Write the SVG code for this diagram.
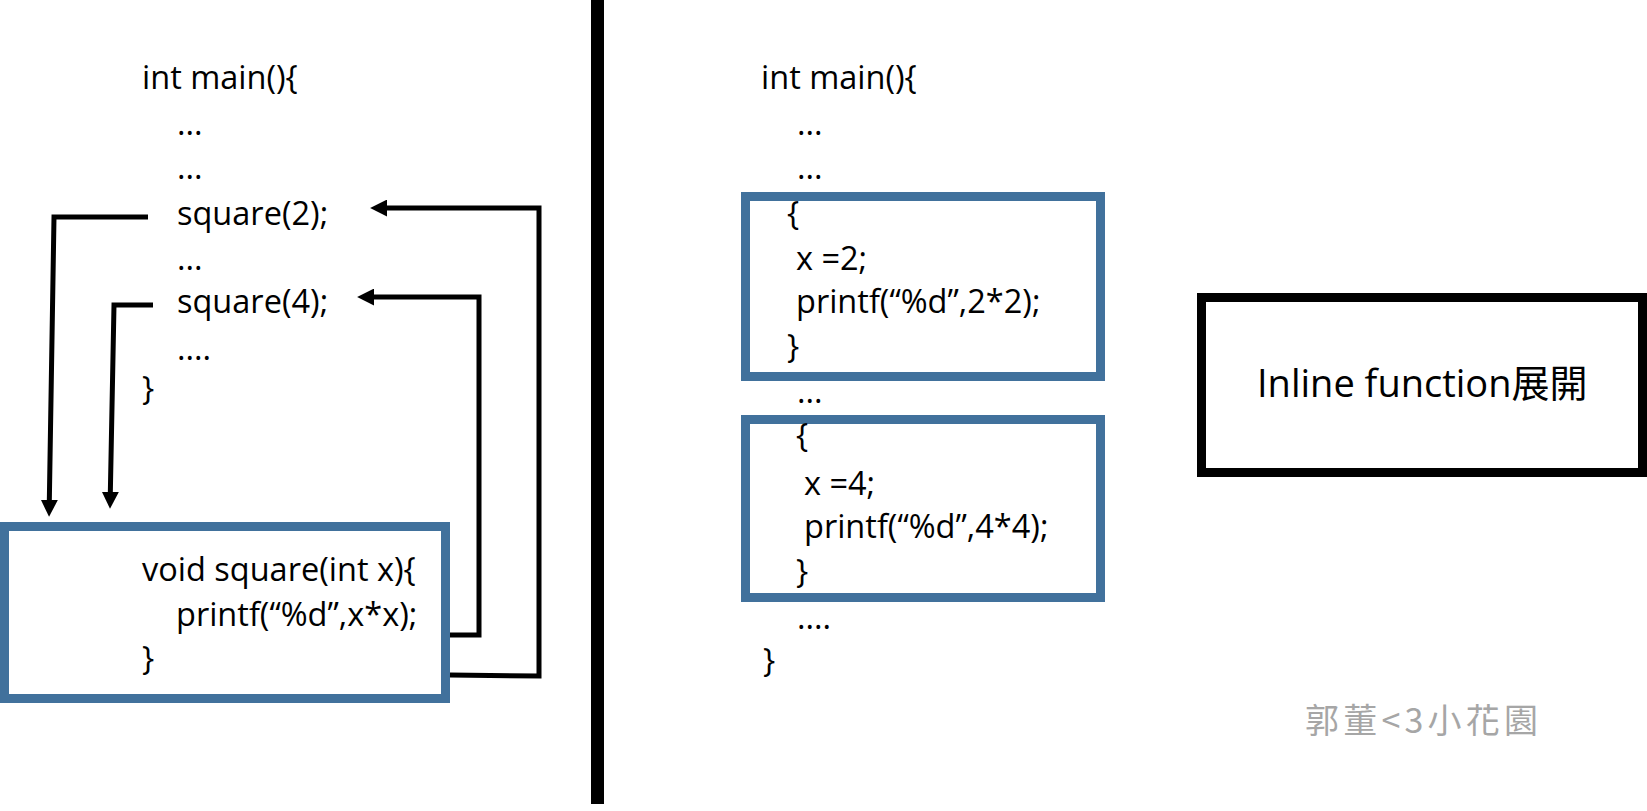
<svg xmlns="http://www.w3.org/2000/svg" width="1647" height="811" viewBox="0 0 1647 811">
<defs>
<style>
.code{font-family:"Open Sans","Liberation Sans",sans-serif;font-size:32.5px;fill:#000}
.blue{fill:none;stroke:#41719C;stroke-width:9}
.conn{fill:none;stroke:#000;stroke-width:5;stroke-linejoin:miter}
.big{font-family:"Open Sans","Noto Sans CJK TC",sans-serif;font-size:38px;fill:#000}
.wm{font-family:"Noto Sans CJK TC","Noto Sans CJK SC",sans-serif;font-size:34px;fill:#A6A6A6}
</style>
<marker id="ah" viewBox="0 0 16 16" refX="2" refY="8" markerWidth="17" markerHeight="17" markerUnits="userSpaceOnUse" orient="auto">
<path d="M0,0 L16,8 L0,16 z" fill="#000"/>
</marker>
</defs>
<rect width="1647" height="811" fill="#fff"/>

<g id="divider">
<rect x="591" y="0" width="13" height="804" fill="#000"/>
</g>

<g id="left-main">
<text class="code" x="142" y="89">int main(){</text>
<text class="code" x="177" y="135">...</text>
<text class="code" x="177" y="179">...</text>
<text class="code" x="177" y="225">square(2);</text>
<text class="code" x="177" y="270">...</text>
<text class="code" x="177" y="313">square(4);</text>
<text class="code" x="177" y="360">....</text>
<text class="code" x="142" y="400">}</text>
</g>

<g id="square-func">
<rect class="blue" x="4.5" y="526.5" width="441" height="172"/>
<text class="code" x="142" y="581">void square(int x){</text>
<text class="code" x="176" y="626">printf(“%d”,x*x);</text>
<text class="code" x="142" y="670">}</text>
</g>

<g id="connectors">
<path class="conn" d="M148,217 L54,217 L49.3,502" marker-end="url(#ah)"/>
<path class="conn" d="M153,305 L114,305 L110.3,494" marker-end="url(#ah)"/>
<path class="conn" d="M450,675 L539,676 L539,208 L385,208" marker-end="url(#ah)"/>
<path class="conn" d="M450,635 L479,635 L479,297 L372,297" marker-end="url(#ah)"/>
</g>

<g id="right-main">
<text class="code" x="761" y="89">int main(){</text>
<text class="code" x="797" y="135">...</text>
<text class="code" x="797" y="179">...</text>
<text class="code" x="797" y="403">...</text>
<text class="code" x="797" y="629">....</text>
<text class="code" x="763" y="672">}</text>
</g>

<g id="inline-block-1">
<rect class="blue" x="745.5" y="196.5" width="355" height="180"/>
<text class="code" x="787" y="225">{</text>
<text class="code" x="796" y="270">x =2;</text>
<text class="code" x="796" y="313">printf(“%d”,2*2);</text>
<text class="code" x="787" y="358">}</text>
</g>

<g id="inline-block-2">
<rect class="blue" x="745.5" y="419.5" width="355" height="178"/>
<text class="code" x="796" y="447">{</text>
<text class="code" x="804" y="495">x =4;</text>
<text class="code" x="804" y="538">printf(“%d”,4*4);</text>
<text class="code" x="796" y="583">}</text>
</g>

<g id="label-box">
<rect x="1201.5" y="297.5" width="441" height="175" fill="none" stroke="#000" stroke-width="9"/>
<text class="big" x="1257" y="397">Inline function展開</text>
</g>

<g id="watermark">
<text class="wm" x="1305" y="733" textLength="233" lengthAdjust="spacing">郭董&lt;3小花園</text>
</g>
</svg>
